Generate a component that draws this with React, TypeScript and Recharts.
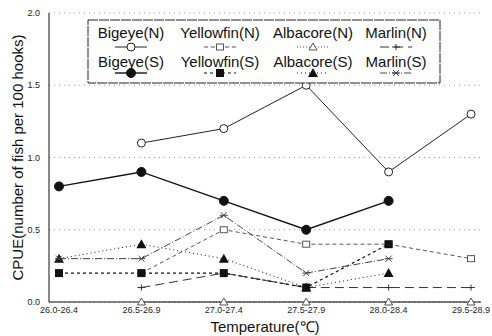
import { CartesianGrid, Line, LineChart, XAxis, YAxis } from 'recharts'

const temps = ['26.0-26.4', '26.5-26.9', '27.0-27.4', '27.5-27.9', '28.0-28.4', '29.5-28.9']

const bigeyeN = [null, 1.1, 1.2, 1.5, 0.9, 1.3]
const bigeyeS = [0.8, 0.9, 0.7, 0.5, 0.7, null]
const yellowfinN = [null, 0.2, 0.5, 0.4, 0.4, 0.3]
const yellowfinS = [0.2, 0.2, 0.2, 0.1, 0.4, null]
const albacoreN = [null, 0, 0, 0, 0, 0]
const albacoreS = [0.3, 0.4, 0.3, 0.1, 0.2, null]
const marlinN = [null, 0.1, 0.2, 0.1, 0.1, 0.1]
const marlinS = [0.3, 0.3, 0.6, 0.2, 0.3, null]

const yTicks = [0, 0.5, 1.0, 1.5, 2.0]

const data = temps.map((t, i) => ({
    temp: t,
    bigeyeN: bigeyeN[i],
    bigeyeS: bigeyeS[i],
    yellowfinN: yellowfinN[i],
    yellowfinS: yellowfinS[i],
    albacoreN: albacoreN[i],
    albacoreS: albacoreS[i],
    marlinN: marlinN[i],
    marlinS: marlinS[i],
}))

const font = "'Liberation Sans', Arial, sans-serif"

type Shape = 'openCircle' | 'circle' | 'openSquare' | 'square' | 'openTriangle' | 'triangle' | 'plus' | 'star'

function marker(shape: Shape, cx: number, cy: number, color: string, key?: string | number) {
    switch (shape) {
        case 'openCircle':
            return <circle key={key} cx={cx} cy={cy} r={4} fill='#fff' stroke={color} strokeWidth={1} />
        case 'circle':
            return <circle key={key} cx={cx} cy={cy} r={4.5} fill={color} stroke={color} />
        case 'openSquare':
            return <rect key={key} x={cx - 3.5} y={cy - 3} width={7} height={6} fill='#fff' stroke={color} strokeWidth={1} />
        case 'square':
            return <rect key={key} x={cx - 4} y={cy - 4} width={8} height={8} fill={color} />
        case 'openTriangle':
            return <path key={key} d={`M${cx},${cy - 4}L${cx + 4},${cy + 3}L${cx - 4},${cy + 3}Z`} fill='#fff' stroke={color} strokeWidth={1} />
        case 'triangle':
            return <path key={key} d={`M${cx},${cy - 5}L${cx + 5},${cy + 4}L${cx - 5},${cy + 4}Z`} fill={color} />
        case 'plus':
            return <path key={key} d={`M${cx - 4},${cy}H${cx + 4}M${cx},${cy - 3}V${cy + 3}`} stroke={color} strokeWidth={1} />
        case 'star':
            return <path key={key} d={`M${cx - 4},${cy}H${cx + 4}M${cx - 3},${cy - 3}L${cx + 3},${cy + 3}M${cx + 3},${cy - 3}L${cx - 3},${cy + 3}`} stroke={color} strokeWidth={1} />
    }
}

const series: { key: string, name: string, shape: Shape, color: string, dash?: string, width: number }[] = [
    { key: 'bigeyeN', name: 'Bigeye(N)', shape: 'openCircle', color: '#222', width: 1 },
    { key: 'yellowfinN', name: 'Yellowfin(N)', shape: 'openSquare', color: '#555', dash: '4 3', width: 1 },
    { key: 'albacoreN', name: 'Albacore(N)', shape: 'openTriangle', color: '#555', dash: '1 2', width: 1 },
    { key: 'marlinN', name: 'Marlin(N)', shape: 'plus', color: '#333', dash: '9 5', width: 1 },
    { key: 'bigeyeS', name: 'Bigeye(S)', shape: 'circle', color: '#111', width: 1.4 },
    { key: 'yellowfinS', name: 'Yellowfin(S)', shape: 'square', color: '#111', dash: '3 3', width: 1.2 },
    { key: 'albacoreS', name: 'Albacore(S)', shape: 'triangle', color: '#111', dash: '1 3', width: 1 },
    { key: 'marlinS', name: 'Marlin(S)', shape: 'star', color: '#444', dash: '7 2 1 2', width: 1 },
]

const legendCenters = [44, 133, 226, 309]

const LegendBox = () => (
    <svg width={354} height={65} style={{ position: 'absolute', left: 87, top: 19 }}>
        <rect x={1} y={1} width={352} height={63} fill='#fff' stroke='#222' strokeWidth={1} strokeDasharray='10 1' />
        {series.map((s, i) => {
            const col = i % 4
            const row = Math.floor(i / 4)
            const cx = legendCenters[col]
            const ty = row === 0 ? 19 : 48
            const my = row === 0 ? 28 : 54
            return (
                <g key={s.key}>
                    <text x={cx} y={ty} textAnchor='middle' fontSize={15} fontFamily={font} fill='#111'>{s.name}</text>
                    <line x1={cx - 16} x2={cx + 16} y1={my} y2={my} stroke={s.color} strokeWidth={s.width} strokeDasharray={s.dash} />
                    {marker(s.shape, cx, my, s.color)}
                </g>
            )
        })}
    </svg>
)

const App = () => {
    return (
        <div style={{ position: 'absolute', left: 0, top: 0, width: 492, height: 336, background: '#fff' }}>
            <LineChart width={492} height={336} data={data} margin={{ top: 13, right: 11, left: 0, bottom: 0 }}>
                <CartesianGrid vertical={false} stroke='#999' strokeDasharray='1 4' />
                <XAxis dataKey='temp' height={34} padding={{ left: 10, right: 10 }} tickSize={0} tickMargin={5}
                    axisLine={{ stroke: '#111' }} interval={0}
                    tick={{ fontSize: 9, fill: '#222', fontFamily: font }}
                    label={{ value: 'Temperature(℃)', position: 'insideBottom', offset: 4, fontSize: 15, fill: '#111', fontFamily: font }} />
                <XAxis xAxisId='top' dataKey='temp' orientation='top' height={0} tick={false} tickLine={false} axisLine={{ stroke: '#111' }} />
                <YAxis domain={[0, 2]} ticks={yTicks} width={49} tickSize={0} tickMargin={9}
                    axisLine={{ stroke: '#111' }} tickFormatter={(v: number) => v.toFixed(1)}
                    tick={{ fontSize: 9, fill: '#222', fontFamily: font }}
                    label={{ value: 'CPUE(number of fish per 100 hooks)', angle: -90, position: 'center', dx: -7, fontSize: 15, fill: '#111', fontFamily: font }} />
                <YAxis yAxisId='right' orientation='right' domain={[0, 2]} width={0} tick={false} tickLine={false} axisLine={{ stroke: '#111' }} />
                {series.map(s => (
                    <Line key={s.key} type='linear' dataKey={s.key} name={s.name} stroke={s.color} strokeWidth={s.width}
                        strokeDasharray={s.dash} isAnimationActive={false}
                        dot={(p: any) => (p.value == null || p.cy == null)
                            ? <g key={p.index} />
                            : marker(s.shape, p.cx, p.cy, s.color, p.index)}
                        activeDot={false} />
                ))}
            </LineChart>
            <LegendBox />
        </div>
    )
}

export default App
